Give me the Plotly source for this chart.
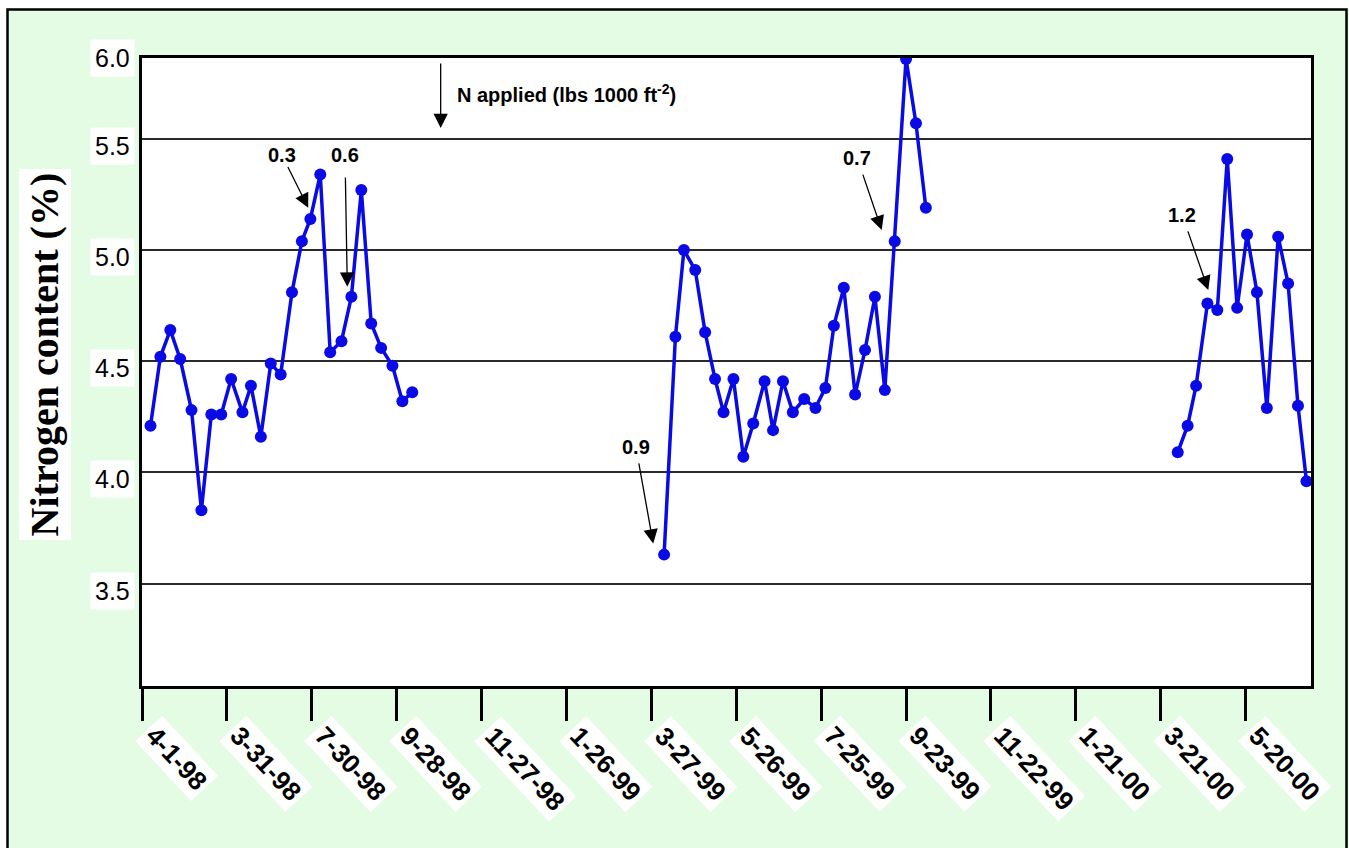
import plotly.graph_objects as go

# ---------------- data ----------------
# x = days after 1 April 1998
days_1998 = [6, 13, 20, 27, 35, 42, 49, 56, 63, 71, 77, 84, 91, 98, 106, 113, 119, 126,
             133, 141, 148, 155, 162, 169, 177, 184, 191]
n_1998 = [4.21, 4.52, 4.64, 4.51, 4.28, 3.83, 4.26, 4.26, 4.42, 4.27, 4.39, 4.16, 4.49,
          4.44, 4.81, 5.04, 5.14, 5.34, 4.54, 4.59, 4.79, 5.27, 4.67, 4.56, 4.48, 4.32, 4.36]

days_1999 = [369, 377, 383, 391, 398, 405, 411, 418, 425, 432, 440, 446, 453, 460, 468,
             476, 483, 489, 496, 504, 511, 518, 525, 532, 540, 547, 554]
n_1999 = [3.63, 4.61, 5.00, 4.91, 4.63, 4.42, 4.27, 4.42, 4.07, 4.22, 4.41, 4.19, 4.41,
          4.27, 4.33, 4.29, 4.38, 4.66, 4.83, 4.35, 4.55, 4.79, 4.37, 5.04, 5.86, 5.57, 5.19]

days_2000 = [732, 739, 745, 753, 760, 767, 774, 781, 788, 795, 803, 810, 817, 823]
n_2000 = [4.09, 4.21, 4.39, 4.76, 4.73, 5.41, 4.74, 5.07, 4.81, 4.29, 5.06, 4.85, 4.30, 3.96]

x_tick_days = [0, 60, 120, 180, 240, 300, 360, 420, 480, 540, 600, 660, 720, 780]
x_tick_labels = ["4-1-98", "3-31-98", "7-30-98", "9-28-98", "11-27-98", "1-26-99", "3-27-99",
                 "5-26-99", "7-25-99", "9-23-99", "11-22-99", "1-21-00", "3-21-00", "5-20-00"]
y_tick_vals = [3.5, 4.0, 4.5, 5.0, 5.5]
y_tick_labels = ["3.5", "4.0", "4.5", "5.0", "5.5"]
y_top_label = "6.0"

# N application events: (label, day, value at arrow tip)
n_applied_labels = ["0.3", "0.6", "0.9", "0.7", "1.2"]
n_applied_days = [117.5, 145.1, 361.3, 522.8, 753.6]
n_applied_tips = [5.19, 4.835, 3.68, 5.09, 4.82]

# ---------------- styling ----------------
X_MAX = 826.2
Y_MIN, Y_MAX = 3.039, 5.864
BLUE = "#0A0AE6"
GREEN = "#E3FCE3"
SANS = "Arial, Liberation Sans, sans-serif"
SERIF = "Times New Roman, Liberation Serif, serif"

fig = go.Figure()
for xs, ys in [(days_1998, n_1998), (days_1999, n_1999), (days_2000, n_2000)]:
    fig.add_trace(go.Scatter(
        x=xs, y=ys, mode="lines+markers",
        line=dict(color=BLUE, width=3.5),
        marker=dict(size=12, color=BLUE),
        showlegend=False, hoverinfo="x+y",
    ))

annotations = []
# y tick labels with white boxes
for v, t in zip(y_tick_vals, y_tick_labels):
    annotations.append(dict(
        xref="paper", yref="y", x=0, y=v, xanchor="right", yanchor="middle",
        xshift=-7, yshift=-7, text=t, showarrow=False, bgcolor="white", borderpad=4,
        font=dict(family=SANS, size=25, color="black")))
annotations.append(dict(
    xref="paper", yref="y", x=0, y=Y_MAX, xanchor="right", yanchor="middle",
    xshift=-7, text=y_top_label, showarrow=False, bgcolor="white", borderpad=4,
    font=dict(family=SANS, size=25, color="black")))

# x tick labels, rotated, with white boxes
for d, t in zip(x_tick_days, x_tick_labels):
    annotations.append(dict(
        xref="x", yref="paper", x=d, y=0, xanchor="left", yanchor="top",
        xshift=-8, yshift=-29, textangle=47, text=t, showarrow=False,
        bgcolor="white", borderpad=3,
        font=dict(family=SANS, size=26, color="black", weight="bold")))

# y-axis title
annotations.append(dict(
    xref="paper", yref="paper", x=-0.0826, y=0.5287, xanchor="center", yanchor="middle",
    textangle=-90, text="Nitrogen content (%)", showarrow=False, bgcolor="white",
    borderpad=3, font=dict(family=SERIF, size=40, color="black", weight="bold")))

# legend-like note for N applied
annotations.append(dict(
    xref="x", yref="y", x=211.1, y=5.549, ax=0, ay=-66, text="", showarrow=True,
    arrowhead=2, arrowsize=2.2, arrowwidth=1.3, arrowcolor="black"))
annotations.append(dict(
    xref="x", yref="y", x=221.2, y=5.706, xanchor="left", yanchor="middle",
    text="N applied (lbs 1000 ft<sup>-2</sup>)", showarrow=False,
    font=dict(family=SANS, size=20, color="black", weight="bold")))

# N application arrows (label offsets in pixels)
label_offsets = [(-26.6, -53.3), (-2.3, -131.7), (-17.3, -96.6), (-24.4, -71.7), (-26, -75)]
start_standoffs = [0, 10, 4, 4, 4]
for t, d, v, (ax, ay), ss in zip(n_applied_labels, n_applied_days, n_applied_tips,
                                 label_offsets, start_standoffs):
    annotations.append(dict(
        xref="x", yref="y", x=d, y=v, ax=ax, ay=ay, text=t, showarrow=True,
        arrowhead=2, arrowsize=2.2, arrowwidth=1.3, arrowcolor="black",
        startstandoff=ss,
        font=dict(family=SANS, size=20, color="black", weight="bold")))

# frame: white outer margin strips and black border
def px_x(p):
    return (p - 142) / 1169

def px_y(p):
    return (686 - p) / 628

shapes = [
    dict(type="rect", xref="paper", yref="paper", x0=px_x(0), x1=px_x(1349),
         y0=px_y(0), y1=px_y(8), fillcolor="white", line=dict(width=0)),
    dict(type="rect", xref="paper", yref="paper", x0=px_x(0), x1=px_x(6),
         y0=px_y(0), y1=px_y(848), fillcolor="white", line=dict(width=0)),
    dict(type="rect", xref="paper", yref="paper", x0=px_x(7.5), x1=px_x(1346.5),
         y0=px_y(9.5), y1=px_y(870), line=dict(color="black", width=2.5)),
]

fig.update_layout(
    width=1349, height=848, autosize=False,
    margin=dict(l=142, r=38, t=58, b=162),
    paper_bgcolor=GREEN, plot_bgcolor="white",
    annotations=annotations, shapes=shapes,
    showlegend=False,
)
fig.update_xaxes(
    range=[0, X_MAX], tickvals=x_tick_days, showticklabels=False,
    ticks="outside", ticklen=32, tickwidth=2.5, tickcolor="black",
    showgrid=False, zeroline=False,
    showline=True, linecolor="black", linewidth=2.5, mirror=True,
)
fig.update_yaxes(
    range=[Y_MIN, Y_MAX], tickvals=y_tick_vals, showticklabels=False, ticks="",
    showgrid=True, gridcolor="#2a2a2a", gridwidth=1.5, zeroline=False,
    showline=True, linecolor="black", linewidth=2.5, mirror=True,
)

fig.write_html(
    "out.html",
    config={"displayModeBar": False},
    post_script="document.body.style.margin='0';document.body.style.overflow='hidden';",
)
